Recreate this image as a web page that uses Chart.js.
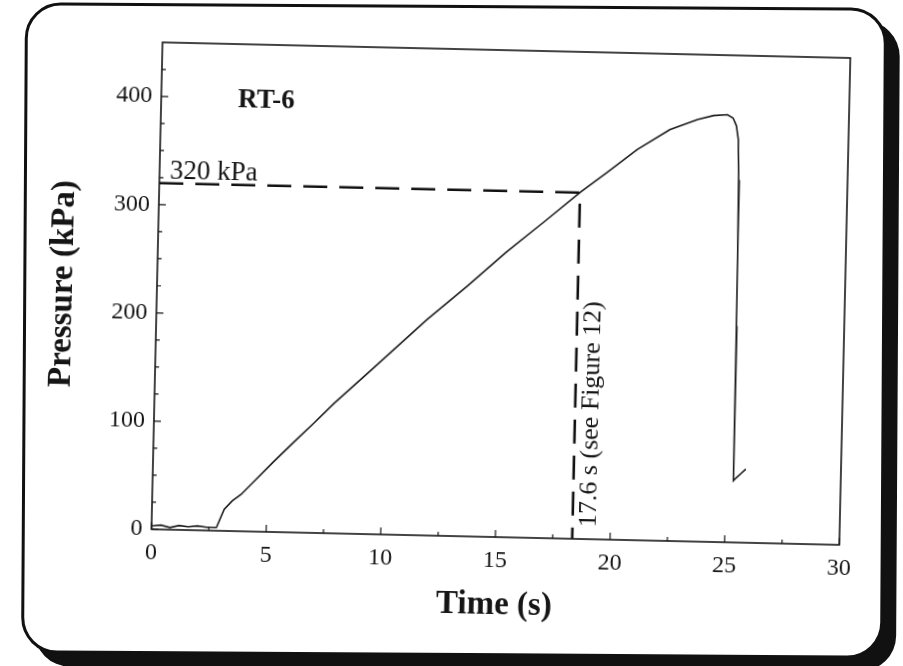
<!DOCTYPE html>
<html>
<head>
<meta charset="utf-8">
<script src="https://cdn.jsdelivr.net/npm/chart.js@4/dist/chart.umd.min.js"></script>
<style>
  html, body { margin: 0; padding: 0; background: #fff; overflow: hidden; }
  #frame { position: absolute; left: 23px; top: 5px; width: 856px; height: 645px; border: 3px solid #111; border-radius: 36px; box-shadow: 13px 13px 0 #111; background: #fff; transform: rotate(0.35deg); }
  #wrap { position: absolute; left: 0; top: 0; width: 903px; height: 666px; transform: rotate(1.3deg); transform-origin: 451px 333px; }
  #c { position: absolute; left: 0; top: 0; }
</style>
</head>
<body>
<div id="frame"></div>
<div id="wrap">
  <canvas id="c" width="903" height="666"></canvas>
</div>
<script>
// ---- data ----
const time = [0, 0.4, 0.8, 1.2, 1.6, 2.0, 2.4, 2.83, 3.15, 3.5, 3.87, 4.5, 5.26, 6.1, 6.95, 7.83, 9.49, 11.78, 13.57, 15.17, 16.8, 18.4, 19.5, 20.8, 22.2, 23.4, 24.1, 24.7, 24.95, 25.1, 25.2, 25.25, 25.28, 25.3, 25.31, 25.32, 25.33, 25.45, 25.65, 25.85];
const pressure = [3, 4, 2, 4, 3, 4, 3, 3, 20, 28, 34, 48, 65, 83, 101, 120, 153, 199, 232, 263, 292, 321, 339, 361, 380, 390, 394, 395, 392, 385, 372, 335, 270, 200, 130, 85, 57, 60, 64, 68];

const refTime = [0, 18.35, 18.35];
const refPressure = [320, 320, 0];

const xTickLabels = [0, 5, 10, 15, 20, 25, 30];
const yTickLabels = [0, 100, 200, 300, 400];
const xMinorTicks = [2.5, 7.5, 12.5, 17.5, 22.5, 27.5];
const yMinorTicks = [25, 50, 75, 125, 150, 175, 225, 250, 275, 325, 350, 375, 425];

const seriesLabel = 'RT-6';
const refLabel = '320 kPa';
const vertLabel = '17.6 s (see Figure 12)';
const xTitle = 'Time (s)';
const yTitle = 'Pressure (kPa)';

const SERIF = "'Liberation Serif', 'DejaVu Serif', serif";
const INK = '#151515';

const decor = {
  id: 'decor',
  afterDatasetsDraw(chart) {
    const { ctx, chartArea: a, scales: { x, y } } = chart;
    ctx.save();
    // plot frame
    ctx.strokeStyle = INK;
    ctx.lineWidth = 1.6;
    ctx.strokeRect(a.left, a.top, a.right - a.left, a.bottom - a.top);
    // inward ticks
    ctx.lineWidth = 1.2;
    ctx.beginPath();
    xTickLabels.forEach(v => { const px = x.getPixelForValue(v); ctx.moveTo(px, a.bottom); ctx.lineTo(px, a.bottom - 7); });
    xMinorTicks.forEach(v => { const px = x.getPixelForValue(v); ctx.moveTo(px, a.bottom); ctx.lineTo(px, a.bottom - 4); });
    yTickLabels.forEach(v => { const py = y.getPixelForValue(v); ctx.moveTo(a.left, py); ctx.lineTo(a.left + 7, py); });
    yMinorTicks.forEach(v => { const py = y.getPixelForValue(v); ctx.moveTo(a.left, py); ctx.lineTo(a.left + 4, py); });
    ctx.stroke();
    // texts
    ctx.fillStyle = INK;
    ctx.font = "bold 27px " + SERIF;
    ctx.textBaseline = 'middle';
    ctx.textAlign = 'left';
    ctx.fillText(seriesLabel, x.getPixelForValue(3.35), y.getPixelForValue(398));
    ctx.font = "27px " + SERIF;
    ctx.textBaseline = 'alphabetic';
    ctx.fillText(refLabel, x.getPixelForValue(0.45), y.getPixelForValue(324));
    ctx.save();
    ctx.translate(x.getPixelForValue(19.05), y.getPixelForValue(11));
    ctx.rotate(-Math.PI / 2);
    ctx.font = "26px " + SERIF;
    ctx.textBaseline = 'middle';
    ctx.textAlign = 'left';
    ctx.fillText(vertLabel, 0, 0);
    ctx.restore();
    ctx.restore();
  }
};

new Chart(document.getElementById('c'), {
  type: 'line',
  data: {
    datasets: [
      {
        data: time.map((t, i) => ({ x: t, y: pressure[i] })),
        borderColor: '#1e1e1e', borderWidth: 1.6, pointRadius: 0, tension: 0
      },
      {
        data: refTime.map((t, i) => ({ x: t, y: refPressure[i] })),
        borderColor: '#111', borderWidth: 2.6, borderDash: [24, 12], pointRadius: 0, tension: 0
      }
    ]
  },
  options: {
    responsive: false,
    animation: false,
    layout: { padding: { top: 49, right: 59, left: 0, bottom: 0 } },
    plugins: { legend: { display: false }, tooltip: { enabled: false } },
    scales: {
      x: {
        type: 'linear', min: 0, max: 30,
        afterBuildTicks: s => { s.ticks = xTickLabels.map(v => ({ value: v })); },
        afterFit: s => { s.height = 130; },
        grid: { display: false, drawTicks: false },
        border: { display: false },
        ticks: { padding: 9, color: INK, font: { family: SERIF, size: 24 }, maxRotation: 0 },
        title: { display: true, text: xTitle, color: INK, font: { family: SERIF, size: 33, weight: 'bold' }, padding: { top: 0, bottom: 42 } }
      },
      y: {
        type: 'linear', min: 0, max: 450,
        afterBuildTicks: s => { s.ticks = yTickLabels.map(v => ({ value: v })); },
        afterFit: s => { s.width = 156; },
        grid: { display: false, drawTicks: false },
        border: { display: false },
        ticks: { padding: 9, color: INK, font: { family: SERIF, size: 24 } },
        title: { display: true, text: yTitle, color: INK, font: { family: SERIF, size: 33, weight: 'bold' }, padding: { top: 43, bottom: 0 } }
      }
    }
  },
  plugins: [decor]
});
</script>
</body>
</html>
